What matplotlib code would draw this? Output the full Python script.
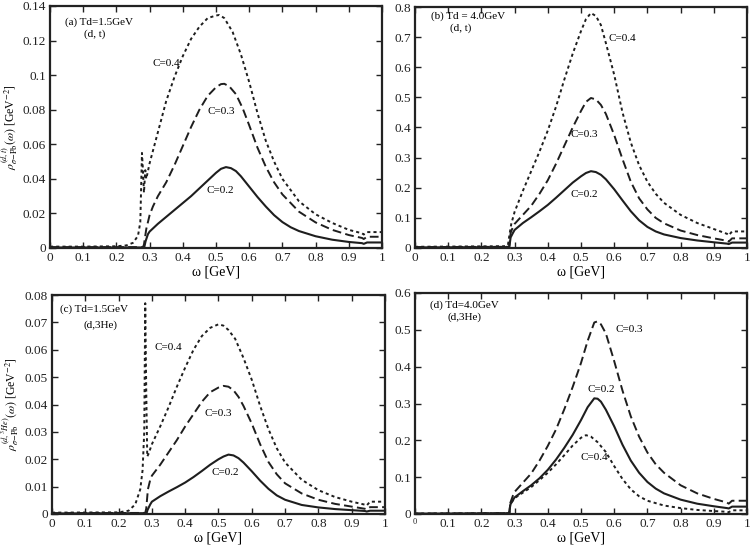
import matplotlib
matplotlib.use("Agg")
import matplotlib.pyplot as plt
from matplotlib.ticker import FuncFormatter, MultipleLocator

plt.rcParams['font.family'] = ['Liberation Serif', 'DejaVu Serif']
plt.rcParams['mathtext.fontset'] = 'stix'

# ---------------- data ----------------
# Panel (a): Td=1.5 GeV, (d,t)
a_c02_w = [0, 0.1, 0.2, 0.28, 0.284, 0.288, 0.295, 0.3, 0.325, 0.35, 0.375, 0.4, 0.425, 0.45, 0.475, 0.5,
           0.515, 0.53, 0.545, 0.56, 0.575, 0.6, 0.625, 0.65, 0.675, 0.7, 0.725, 0.75, 0.8, 0.85, 0.9, 0.94,
           0.945, 0.955, 1.0]
a_c02_r = [0.0003, 0.0003, 0.0003, 0.0003, 0.0005, 0.004, 0.008, 0.0095, 0.014, 0.018, 0.022, 0.026, 0.030,
           0.0345, 0.039, 0.0435, 0.0458, 0.0468, 0.0462, 0.0445, 0.0415, 0.0355, 0.0295, 0.024, 0.019, 0.015,
           0.012, 0.0098, 0.0068, 0.0048, 0.0035, 0.0028, 0.0024, 0.0032, 0.0032]
a_c03_w = [0, 0.2, 0.28, 0.283, 0.29, 0.3, 0.31, 0.325, 0.35, 0.375, 0.4, 0.425, 0.45, 0.475, 0.5, 0.515,
           0.525, 0.54, 0.56, 0.58, 0.6, 0.625, 0.65, 0.675, 0.7, 0.75, 0.8, 0.85, 0.9, 0.94, 0.945, 0.955, 1.0]
a_c03_r = [0.0005, 0.0005, 0.0005, 0.002, 0.011, 0.019, 0.024, 0.030, 0.038, 0.048, 0.059, 0.070, 0.080,
           0.088, 0.093, 0.0948, 0.095, 0.0935, 0.089, 0.081, 0.071, 0.058, 0.047, 0.038, 0.031, 0.021,
           0.0148, 0.0105, 0.0075, 0.0058, 0.0052, 0.0065, 0.0065]
a_c04_w = [0, 0.1, 0.2, 0.23, 0.25, 0.265, 0.272, 0.277, 0.28, 0.283, 0.287, 0.29, 0.3, 0.325, 0.35, 0.375,
           0.4, 0.425, 0.45, 0.475, 0.5, 0.51, 0.525, 0.55, 0.575, 0.6, 0.625, 0.65, 0.675, 0.7, 0.75, 0.8,
           0.85, 0.9, 0.94, 0.945, 0.955, 1.0]
a_c04_r = [0.0008, 0.0008, 0.001, 0.0015, 0.003, 0.007, 0.015, 0.055, 0.045, 0.032, 0.045, 0.040, 0.049,
           0.067, 0.085, 0.099, 0.111, 0.121, 0.128, 0.133, 0.1345, 0.1348, 0.133, 0.125, 0.112, 0.096,
           0.078, 0.062, 0.050, 0.040, 0.027, 0.0195, 0.0145, 0.0105, 0.0085, 0.0078, 0.0092, 0.0092]

# Panel (b): Td=4.0 GeV, (d,t)
b_c02_w = [0, 0.284, 0.288, 0.295, 0.3, 0.325, 0.35, 0.375, 0.4, 0.425, 0.45, 0.475, 0.5, 0.515, 0.53,
           0.545, 0.56, 0.575, 0.6, 0.625, 0.65, 0.675, 0.7, 0.725, 0.75, 0.8, 0.85, 0.9, 0.94, 0.945, 0.955, 1.0]
b_c02_r = [0.002, 0.003, 0.035, 0.05, 0.06, 0.083, 0.102, 0.122, 0.143, 0.167, 0.192, 0.217, 0.238, 0.249,
           0.255, 0.252, 0.243, 0.228, 0.195, 0.158, 0.122, 0.092, 0.07, 0.055, 0.045, 0.033, 0.025, 0.019,
           0.0145, 0.013, 0.018, 0.018]
b_c03_w = [0, 0.28, 0.284, 0.288, 0.295, 0.3, 0.325, 0.35, 0.375, 0.4, 0.425, 0.45, 0.475, 0.5, 0.515, 0.53,
           0.545, 0.56, 0.575, 0.6, 0.625, 0.65, 0.675, 0.7, 0.725, 0.75, 0.8, 0.85, 0.9, 0.94, 0.945, 0.955, 1.0]
b_c03_r = [0.003, 0.004, 0.006, 0.05, 0.07, 0.08, 0.11, 0.14, 0.18, 0.225, 0.28, 0.34, 0.40, 0.455, 0.485,
           0.498, 0.493, 0.475, 0.445, 0.375, 0.295, 0.22, 0.165, 0.128, 0.100, 0.082, 0.058, 0.043, 0.032,
           0.024, 0.021, 0.032, 0.032]
b_c04_w = [0, 0.27, 0.28, 0.284, 0.29, 0.3, 0.325, 0.35, 0.375, 0.4, 0.425, 0.45, 0.475, 0.5, 0.515, 0.53,
           0.545, 0.56, 0.575, 0.6, 0.625, 0.65, 0.675, 0.7, 0.725, 0.75, 0.8, 0.85, 0.9, 0.94, 0.945, 0.955, 1.0]
b_c04_r = [0.004, 0.006, 0.01, 0.04, 0.08, 0.12, 0.19, 0.255, 0.32, 0.39, 0.47, 0.56, 0.645, 0.72, 0.76,
           0.78, 0.77, 0.74, 0.68, 0.575, 0.45, 0.35, 0.275, 0.22, 0.18, 0.15, 0.11, 0.083, 0.063, 0.047,
           0.042, 0.055, 0.055]

# Panel (c): Td=1.5 GeV, (d,3He)
c_c02_w = [0, 0.284, 0.287, 0.295, 0.3, 0.325, 0.35, 0.375, 0.4, 0.425, 0.45, 0.475, 0.5, 0.515, 0.53,
           0.545, 0.56, 0.575, 0.6, 0.625, 0.65, 0.675, 0.7, 0.75, 0.8, 0.85, 0.9, 0.94, 0.945, 0.955, 1.0]
c_c02_r = [0.0002, 0.0003, 0.0015, 0.0035, 0.0045, 0.0065, 0.0082, 0.0098, 0.0115, 0.0135, 0.0157, 0.018,
           0.020, 0.021, 0.0217, 0.0214, 0.0204, 0.0188, 0.0156, 0.0122, 0.0092, 0.0068, 0.0052, 0.0033,
           0.0024, 0.0018, 0.0014, 0.0011, 0.0009, 0.0012, 0.0012]
c_c03_w = [0, 0.28, 0.283, 0.288, 0.295, 0.3, 0.325, 0.35, 0.375, 0.4, 0.425, 0.45, 0.475, 0.5, 0.515, 0.53,
           0.545, 0.56, 0.575, 0.6, 0.625, 0.65, 0.675, 0.7, 0.75, 0.8, 0.85, 0.9, 0.94, 0.945, 0.955, 1.0]
c_c03_r = [0.0003, 0.0004, 0.002, 0.009, 0.0125, 0.014, 0.018, 0.0225, 0.027, 0.032, 0.0365, 0.041, 0.0445,
           0.0462, 0.0468, 0.0465, 0.0452, 0.0428, 0.0395, 0.033, 0.0255, 0.019, 0.0145, 0.0112, 0.0075,
           0.0052, 0.0037, 0.0027, 0.0019, 0.0017, 0.0025, 0.0025]
c_c04_w = [0, 0.2, 0.23, 0.25, 0.265, 0.272, 0.277, 0.28, 0.283, 0.286, 0.29, 0.3, 0.325, 0.35, 0.375, 0.4,
           0.425, 0.45, 0.475, 0.5, 0.515, 0.53, 0.55, 0.575, 0.6, 0.625, 0.65, 0.675, 0.7, 0.75, 0.8, 0.85,
           0.9, 0.94, 0.945, 0.955, 1.0]
c_c04_r = [0.0005, 0.0006, 0.0012, 0.0035, 0.009, 0.016, 0.03, 0.077, 0.045, 0.021, 0.022, 0.0255, 0.032,
           0.039, 0.0465, 0.0535, 0.060, 0.065, 0.068, 0.0693, 0.0688, 0.0672, 0.064, 0.057, 0.049, 0.0395,
           0.031, 0.024, 0.0188, 0.0125, 0.0087, 0.0062, 0.0045, 0.0034, 0.0031, 0.0045, 0.0045]

# Panel (d): Td=4.0 GeV, (d,3He)
d_c02_w = [0, 0.284, 0.287, 0.295, 0.3, 0.325, 0.35, 0.375, 0.4, 0.425, 0.45, 0.475, 0.5, 0.52, 0.54, 0.55,
           0.56, 0.575, 0.6, 0.625, 0.65, 0.675, 0.7, 0.725, 0.75, 0.8, 0.85, 0.9, 0.94, 0.945, 0.955, 1.0]
d_c02_r = [0.001, 0.002, 0.025, 0.038, 0.045, 0.062, 0.078, 0.097, 0.12, 0.148, 0.18, 0.215, 0.255, 0.29,
           0.314, 0.313, 0.305, 0.283, 0.238, 0.188, 0.145, 0.112, 0.087, 0.069, 0.056, 0.039, 0.028, 0.021,
           0.016, 0.015, 0.02, 0.02]
d_c03_w = [0, 0.284, 0.287, 0.295, 0.3, 0.325, 0.35, 0.375, 0.4, 0.425, 0.45, 0.475, 0.5, 0.52, 0.54, 0.55,
           0.56, 0.575, 0.6, 0.625, 0.65, 0.675, 0.7, 0.725, 0.75, 0.8, 0.85, 0.9, 0.94, 0.945, 0.955, 1.0]
d_c03_r = [0.001, 0.002, 0.03, 0.05, 0.06, 0.085, 0.11, 0.145, 0.185, 0.23, 0.285, 0.345, 0.41, 0.47, 0.52,
           0.523, 0.515, 0.49, 0.415, 0.335, 0.265, 0.21, 0.167, 0.135, 0.112, 0.078, 0.056, 0.041, 0.031,
           0.028, 0.036, 0.036]
d_c04_w = [0, 0.284, 0.287, 0.295, 0.3, 0.325, 0.35, 0.375, 0.4, 0.425, 0.45, 0.475, 0.5, 0.515, 0.53, 0.55,
           0.575, 0.6, 0.625, 0.65, 0.675, 0.7, 0.75, 0.8, 0.85, 0.9, 0.94, 0.945, 0.955, 1.0]
d_c04_r = [0.001, 0.002, 0.025, 0.037, 0.043, 0.058, 0.073, 0.092, 0.112, 0.135, 0.16, 0.186, 0.207, 0.214,
           0.21, 0.195, 0.168, 0.13, 0.095, 0.067, 0.048, 0.036, 0.023, 0.016, 0.011, 0.008, 0.006, 0.005,
           0.01, 0.01]

x_ticks = [0, 0.1, 0.2, 0.3, 0.4, 0.5, 0.6, 0.7, 0.8, 0.9, 1.0]
y_max = {'a': 0.14, 'b': 0.8, 'c': 0.08, 'd': 0.6}
y_step = {'a': 0.02, 'b': 0.1, 'c': 0.01, 'd': 0.1}

# ---------------- figure ----------------
fig = plt.figure(figsize=(7.52, 5.46), dpi=100)
W, H = 752.0, 546.0

def mk_ax(l, r, t, b):
    return fig.add_axes([l / W, 1 - b / H, (r - l) / W, (b - t) / H])

ax_a = mk_ax(50, 382, 6, 248)
ax_b = mk_ax(415, 747, 7, 248)
ax_c = mk_ax(52, 385, 295, 514)
ax_d = mk_ax(415, 747, 293, 514)

col = '#1e1e1e'
sty_solid = dict(color=col, lw=1.5, linestyle='-')
sty_dash = dict(color=col, lw=1.4, linestyle=(0, (4.5, 2.2)))
sty_dot = dict(color=col, lw=1.4, linestyle=(0, (1.6, 1.6)))

fmt = FuncFormatter(lambda v, p: ('%g' % round(v, 4)))

panels = [
    (ax_a, 'a', [(a_c02_w, a_c02_r, sty_solid), (a_c03_w, a_c03_r, sty_dash), (a_c04_w, a_c04_r, sty_dot)]),
    (ax_b, 'b', [(b_c02_w, b_c02_r, sty_solid), (b_c03_w, b_c03_r, sty_dash), (b_c04_w, b_c04_r, sty_dot)]),
    (ax_c, 'c', [(c_c02_w, c_c02_r, sty_solid), (c_c03_w, c_c03_r, sty_dash), (c_c04_w, c_c04_r, sty_dot)]),
    (ax_d, 'd', [(d_c02_w, d_c02_r, sty_solid), (d_c03_w, d_c03_r, sty_dash), (d_c04_w, d_c04_r, sty_dot)]),
]

for ax, key, curves in panels:
    for w, r, st in curves:
        ax.plot(w, r, **st)
    ax.set_xlim(0, 1.0)
    ax.set_ylim(0, y_max[key])
    ax.set_xticks(x_ticks)
    ax.yaxis.set_major_locator(MultipleLocator(y_step[key]))
    ax.xaxis.set_major_formatter(fmt)
    ax.yaxis.set_major_formatter(fmt)
    ax.tick_params(direction='in', top=True, right=True, length=4, width=1,
                   labelsize=9.5, pad=3, colors='#222222')
    for s in ax.spines.values():
        s.set_linewidth(1.6)
        s.set_color('#222222')
    ax.set_xlabel('ω [GeV]', fontsize=10, labelpad=1)

ax_a.set_ylabel(r'$\rho^{(d,t)}_{\sigma\mathrm{-Pb}}(\omega)$ [GeV$^{-2}$]', fontsize=8.5)
ax_c.set_ylabel(r'$\rho^{(d,{}^3He)}_{\sigma\mathrm{-Pb}}(\omega)$ [GeV$^{-2}$]', fontsize=8.5)
ax_a.yaxis.set_label_coords(-0.088, 0.5)
ax_c.yaxis.set_label_coords(-0.094, 0.5)

# small "0" x tick label in panel (d)
ax_d.get_xticklabels()[0].set_fontsize(6)

fs = 8
# panel a texts
ax_a.text(0.045, 0.1305, '(a) Td=1.5GeV', fontsize=fs, va='center')
ax_a.text(0.135, 0.1235, '(d, t)', fontsize=fs, ha='center', va='center')
ax_a.text(0.35, 0.107, 'C=0.4', fontsize=fs, ha='center', va='center')
ax_a.text(0.517, 0.079, 'C=0.3', fontsize=fs, ha='center', va='center')
ax_a.text(0.512, 0.033, 'C=0.2', fontsize=fs, ha='center', va='center')
# panel b texts
ax_b.text(0.048, 0.77, '(b) Td = 4.0GeV', fontsize=fs, va='center')
ax_b.text(0.139, 0.728, '(d, t)', fontsize=fs, ha='center', va='center')
ax_b.text(0.623, 0.696, 'C=0.4', fontsize=fs, ha='center', va='center')
ax_b.text(0.51, 0.378, 'C=0.3', fontsize=fs, ha='center', va='center')
ax_b.text(0.51, 0.179, 'C=0.2', fontsize=fs, ha='center', va='center')
# panel c texts
ax_c.text(0.025, 0.0748, '(c) Td=1.5GeV', fontsize=fs, va='center')
ax_c.text(0.145, 0.0688, '(d,3He)', fontsize=fs, ha='center', va='center')
ax_c.text(0.35, 0.061, 'C=0.4', fontsize=fs, ha='center', va='center')
ax_c.text(0.5, 0.0366, 'C=0.3', fontsize=fs, ha='center', va='center')
ax_c.text(0.52, 0.015, 'C=0.2', fontsize=fs, ha='center', va='center')
# panel d texts
ax_d.text(0.045, 0.568, '(d) Td=4.0GeV', fontsize=fs, va='center')
ax_d.text(0.15, 0.533, '(d,3He)', fontsize=fs, ha='center', va='center')
ax_d.text(0.645, 0.50, 'C=0.3', fontsize=fs, ha='center', va='center')
ax_d.text(0.56, 0.337, 'C=0.2', fontsize=fs, ha='center', va='center')
ax_d.text(0.54, 0.154, 'C=0.4', fontsize=fs, ha='center', va='center')

fig.savefig('out.png', dpi=100)
